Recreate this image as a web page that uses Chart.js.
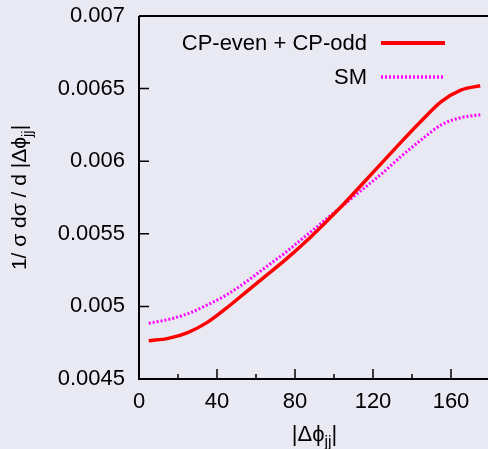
<!DOCTYPE html>
<html>
<head>
<meta charset="utf-8">
<script src="https://cdn.jsdelivr.net/npm/chart.js@4.4.1/dist/chart.umd.min.js"></script>
<style>
html, body { margin: 0; padding: 0; overflow: hidden; background: #e9e9f3; }
#wrap { width: 500px; height: 449px; }
</style>
</head>
<body>
<div id="wrap"><canvas id="c"></canvas></div>
<script>
const xValues = [5, 15, 25, 35, 45, 55, 65, 75, 85, 95, 105, 115, 125, 135, 145, 155, 165, 175];
const cpMix = [0.004763, 0.00478, 0.00482, 0.00489, 0.00499, 0.00510, 0.00521, 0.00532, 0.00544,
    0.00557, 0.005705, 0.00585, 0.005995, 0.00614, 0.00628, 0.00641, 0.00649, 0.00652];
const smValues = [0.004884, 0.00491, 0.00495, 0.00501, 0.00508, 0.00517, 0.00527, 0.00537, 0.00548,
    0.00559, 0.00570, 0.00581, 0.00592, 0.00604, 0.00615, 0.00625, 0.00630, 0.00632];
const seriesNames = ["CP-even + CP-odd", "SM"];
const xTicks = [0, 40, 80, 120, 160];
const xMinorTicks = [20, 60, 100, 140];
const yTicks = [0.0045, 0.005, 0.0055, 0.006, 0.0065, 0.007];
const yTickLabels = ["0.0045", "0.005", "0.0055", "0.006", "0.0065", "0.007"];

const font = "Liberation Sans, Arial, sans-serif";

function toPoints(ys) {
    return xValues.map((x, i) => ({ x: x, y: ys[i] }));
}

// text with a small "jj" subscript, centred on x = 0
function drawSubText(ctx, parts, size) {
    let total = 0;
    parts.forEach(p => {
        ctx.font = (p.sub ? size * 0.72 : size) + "px " + font;
        p.w = ctx.measureText(p.t).width;
        total += p.w;
    });
    let x = -total / 2;
    parts.forEach(p => {
        ctx.font = (p.sub ? size * 0.72 : size) + "px " + font;
        ctx.fillText(p.t, x, p.sub ? size * 0.28 : 0);
        x += p.w;
    });
}

const framePlugin = {
    id: "frame",
    afterDatasetsDraw(chart) {
        const ctx = chart.ctx;
        const a = chart.chartArea;
        const xs = chart.scales.x, ys = chart.scales.y;
        ctx.save();
        ctx.strokeStyle = "#000";
        ctx.lineWidth = 2;
        ctx.beginPath();
        ctx.moveTo(a.left, a.top); ctx.lineTo(a.right, a.top); ctx.lineTo(a.right, a.bottom);
        ctx.lineTo(a.left, a.bottom); ctx.lineTo(a.left, a.top);
        ctx.stroke();

        ctx.lineWidth = 1.5;
        ctx.beginPath();
        xTicks.forEach(v => {
            const px = xs.getPixelForValue(v);
            ctx.moveTo(px, a.bottom); ctx.lineTo(px, a.bottom - 10);
        });
        xMinorTicks.forEach(v => {
            const px = xs.getPixelForValue(v);
            ctx.moveTo(px, a.bottom); ctx.lineTo(px, a.bottom - 5);
        });
        yTicks.forEach(v => {
            const py = ys.getPixelForValue(v);
            ctx.moveTo(a.left, py); ctx.lineTo(a.left + 10, py);
        });
        ctx.stroke();

        // legend, text right aligned with the sample line after it
        ctx.fillStyle = "#000";
        ctx.font = "22px " + font;
        ctx.textAlign = "right";
        ctx.textBaseline = "middle";
        chart.data.datasets.forEach((ds, i) => {
            const ly = 43 + i * 34;
            ctx.fillText(ds.label, 367, ly + 1);
            ctx.strokeStyle = ds.borderColor;
            ctx.lineWidth = i == 0 ? 4 : 3.5;
            ctx.setLineDash(ds.borderDash || []);
            ctx.beginPath();
            ctx.moveTo(381, ly); ctx.lineTo(445, ly);
            ctx.stroke();
        });
        ctx.setLineDash([]);

        // axis titles
        ctx.textAlign = "left";
        ctx.textBaseline = "alphabetic";
        ctx.save();
        ctx.translate((a.left + a.right) / 2, 441);
        drawSubText(ctx, [{ t: "|Δϕ" }, { t: "jj", sub: true }, { t: "|" }], 22);
        ctx.restore();
        ctx.save();
        ctx.translate(26, (a.top + a.bottom) / 2);
        ctx.rotate(-Math.PI / 2);
        drawSubText(ctx, [{ t: "1/ σ dσ / d |Δϕ" }, { t: "jj", sub: true }, { t: "|" }], 21);
        ctx.restore();
        ctx.restore();
    }
};

new Chart(document.getElementById("c"), {
    type: "line",
    data: {
        datasets: [
            {
                label: seriesNames[0],
                data: toPoints(cpMix),
                borderColor: "#ff0000",
                borderWidth: 3.5,
                pointRadius: 0,
                cubicInterpolationMode: "monotone"
            },
            {
                label: seriesNames[1],
                data: toPoints(smValues),
                borderColor: "#ff00ff",
                borderWidth: 3,
                borderDash: [2, 2],
                pointRadius: 0,
                cubicInterpolationMode: "monotone"
            }
        ]
    },
    options: {
        responsive: true,
        maintainAspectRatio: false,
        animation: false,
        layout: { padding: { top: 16, right: 10, left: 0, bottom: 0 } },
        plugins: { legend: { display: false }, tooltip: { enabled: false } },
        scales: {
            x: {
                type: "linear",
                min: 0,
                max: 180,
                grid: { display: false, drawTicks: false },
                border: { display: false },
                ticks: { color: "#000", font: { family: font, size: 22 }, padding: 10, maxRotation: 0 },
                afterBuildTicks: s => { s.ticks = xTicks.map(v => ({ value: v })); },
                afterFit: s => { s.height = 70; s.paddingLeft = 0; s.paddingRight = 0; }
            },
            y: {
                min: 0.0045,
                max: 0.007,
                grid: { display: false, drawTicks: false },
                border: { display: false },
                ticks: {
                    color: "#000",
                    font: { family: font, size: 22 },
                    padding: 14,
                    callback: (v, i) => yTickLabels[i]
                },
                afterBuildTicks: s => { s.ticks = yTicks.map(v => ({ value: v })); },
                afterFit: s => { s.width = 139; s.paddingTop = 0; s.paddingBottom = 0; }
            }
        }
    },
    plugins: [framePlugin]
});
</script>
</body>
</html>
